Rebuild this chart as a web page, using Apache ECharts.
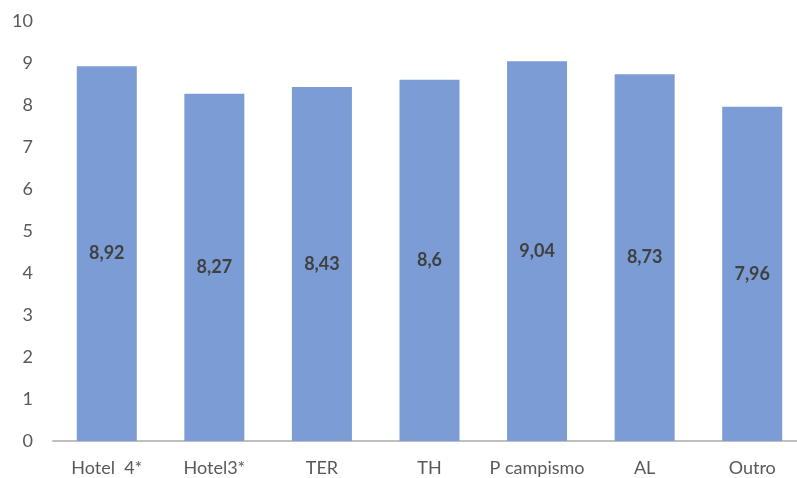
<!DOCTYPE html>
<html>
<head>
<meta charset="utf-8">
<script src="https://cdn.jsdelivr.net/npm/echarts@6/dist/echarts.min.js"></script>
<style>html,body{margin:0;padding:0;background:#fff;overflow:hidden;width:797px;height:478px;}#c{width:810px;height:478px;}</style>
</head>
<body>
<div id="c"></div>
<script>
const categories = ['Hotel  4*', 'Hotel3*', 'TER', 'TH', 'P campismo', 'AL', 'Outro'];
const values = [8.92, 8.27, 8.43, 8.6, 9.04, 8.73, 7.96];
const yTicks = [0, 1, 2, 3, 4, 5, 6, 7, 8, 9, 10];

const chart = echarts.init(document.getElementById('c'));
chart.setOption({
  animation: false,
  grid: { left: 53, width: 753, top: 21, bottom: 37, containLabel: false },
  xAxis: {
    type: 'category',
    data: categories,
    axisTick: { show: false },
    axisLine: { lineStyle: { color: '#bfbfbf', width: 2 } },
    axisLabel: { interval: 0, color: '#595959', fontSize: 18, fontFamily: 'Lato', margin: 18 }
  },
  yAxis: {
    type: 'value',
    min: yTicks[0],
    max: yTicks[yTicks.length - 1],
    interval: 1,
    splitLine: { show: false },
    axisLine: { show: false },
    axisTick: { show: false },
    axisLabel: { color: '#595959', fontSize: 18, fontFamily: 'Lato', margin: 20 }
  },
  series: [{
    type: 'bar',
    data: values,
    barWidth: 60,
    itemStyle: { color: '#7b9cd5' },
    label: {
      show: true,
      position: 'inside',
      color: '#404040',
      fontWeight: 'bold',
      fontSize: 18,
      fontFamily: 'Lato',
      formatter: p => String(p.value).replace('.', ',')
    }
  }]
});
</script>
</body>
</html>
